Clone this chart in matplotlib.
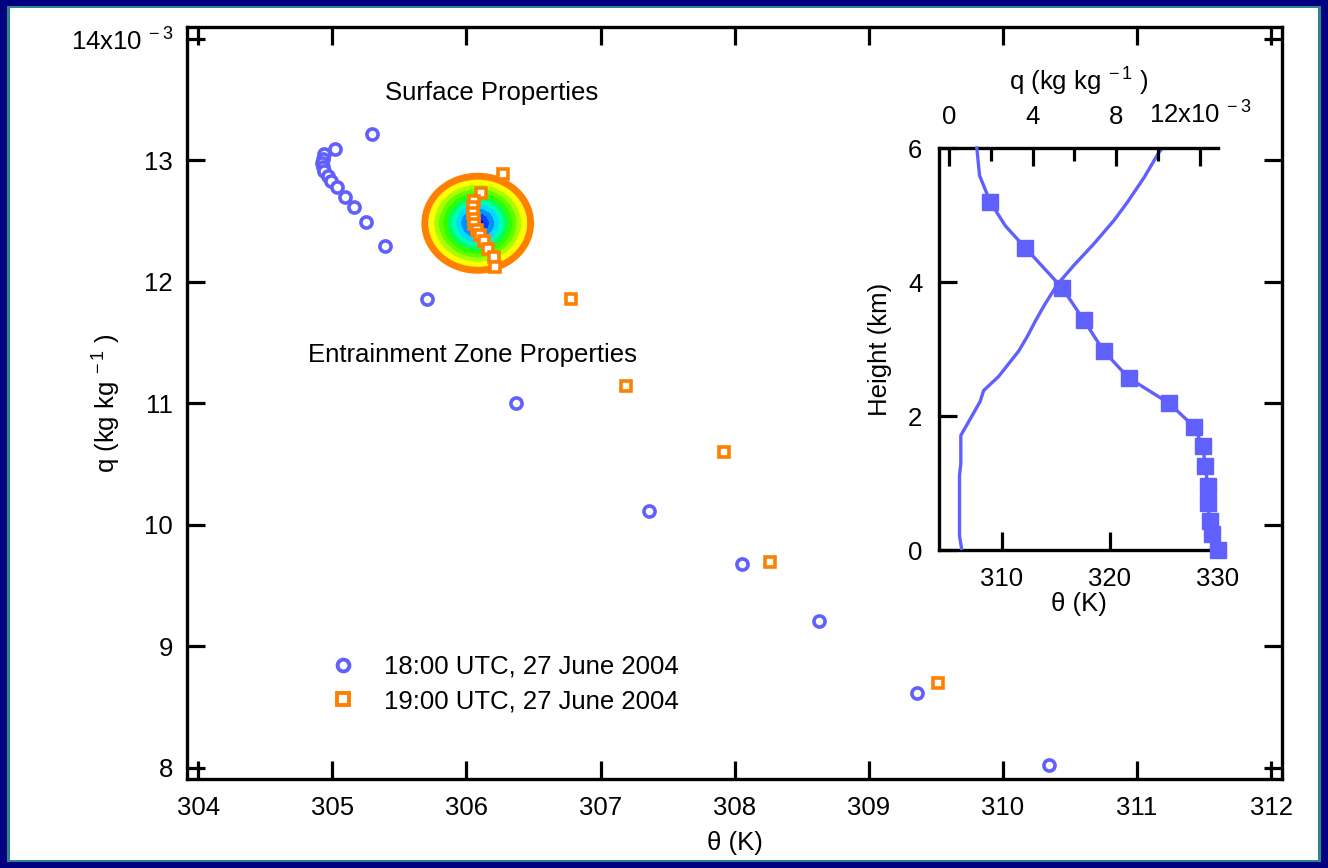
import numpy as np
import matplotlib
matplotlib.use("Agg")
import matplotlib.pyplot as plt
from matplotlib.lines import Line2D
from matplotlib.patches import Rectangle
from matplotlib.ticker import FixedLocator, FixedFormatter

plt.rcParams['font.family'] = ['Liberation Sans', 'DejaVu Sans']
plt.rcParams['mathtext.fontset'] = 'custom'
plt.rcParams['mathtext.rm'] = 'Liberation Sans'
plt.rcParams['mathtext.it'] = 'Liberation Sans'
plt.rcParams['mathtext.default'] = 'regular'

# ---------------- data (q in units of 1e-3 kg/kg) ----------------
theta_18 = [305.296, 305.022, 304.935, 304.928, 304.925, 304.928, 304.940, 304.965,
            304.993, 305.035, 305.092, 305.159, 305.254, 305.393, 305.707,
            306.373, 307.358, 308.052, 308.627, 309.358, 310.343]
q_18 = [13.218, 13.095, 13.051, 13.010, 12.977, 12.949, 12.916, 12.875,
        12.834, 12.784, 12.702, 12.615, 12.496, 12.299, 11.860,
        11.004, 10.115, 9.679, 9.210, 8.617, 8.025]

theta_19 = [306.269, 306.110, 306.060, 306.050, 306.050, 306.054, 306.060, 306.075,
            306.099, 306.129, 306.159, 306.204, 306.216,
            306.776, 307.187, 307.918, 308.261, 309.515]
q_19 = [12.889, 12.735, 12.669, 12.620, 12.565, 12.519, 12.477, 12.428,
        12.387, 12.340, 12.274, 12.203, 12.121,
        11.860, 11.144, 10.601, 9.695, 8.700]

# surface joint-distribution blob (centre, radii of outer contour)
blob_center = [306.084, 12.483]
blob_radius = [0.394, 0.387]
blob_levels = [0.0, 0.12, 0.22, 0.32, 0.42, 0.50, 0.58, 0.66, 0.74, 0.83, 0.92]
blob_colors = ['#0000f0', '#0040ff', '#0090ff', '#00dcff', '#00ffb0',
               '#00ff60', '#30ff00', '#60ff00', '#a8ff00', '#ffff00']
blob_outer = 1.0

# inset profiles
q_mark_h = [0, 0.24, 0.43, 0.70, 0.96, 1.25, 1.55, 1.84, 2.19, 2.57, 2.97, 3.43, 3.91, 4.51, 5.19]
q_mark = [12.87, 12.56, 12.48, 12.37, 12.37, 12.27, 12.13, 11.73, 10.53, 8.59, 7.40, 6.45, 5.42, 3.65, 1.98]
q_line_h = [0, 0.24, 0.43, 0.70, 0.96, 1.25, 1.55, 1.84, 2.19, 2.57, 2.97, 3.43, 3.91, 4.51, 4.84,
            5.19, 5.59, 6.0]
q_line = [12.87, 12.56, 12.48, 12.37, 12.37, 12.27, 12.13, 11.73, 10.53, 8.59, 7.40, 6.45, 5.42, 3.65, 2.69,
          1.98, 1.46, 1.33]
theta_h = [0, 0.21, 1.12, 1.28, 1.71, 2.22, 2.38, 2.59, 2.97, 3.18, 3.42, 3.64, 3.96, 4.25,
           4.57, 4.92, 5.19, 5.56, 5.94, 6.0]
theta_prof = [306.28, 306.07, 306.07, 306.19, 306.19, 307.99, 308.30, 309.69, 311.55, 312.32,
              313.10, 313.87, 315.11, 316.66, 318.51, 320.37, 321.61, 323.16, 324.55, 324.86]

main_yticks = [8, 9, 10, 11, 12, 13, 14]
main_yticklabels = ['8', '9', '10', '11', '12', '13', r'14x10$^{\;-3}$']
main_xticks = [304, 305, 306, 307, 308, 309, 310, 311, 312]
inset_qticks = [0, 4, 8, 12]
inset_qticklabels = ['0', '4', '8', r'12x10$^{\;-3}$']
inset_qminor = [2, 6, 10]
inset_thticks = [310, 320, 330]
inset_hticks = [0, 2, 4, 6]

legend_labels = ['18:00 UTC, 27 June 2004', '19:00 UTC, 27 June 2004']

BLUE = '#6060ff'
ORANGE = '#ff8000'
FS = 18.5

W, H = 1328, 868
fig = plt.figure(figsize=(W / 100, H / 100), dpi=100, facecolor='#000080')
# framed white panel
fig.patches.append(Rectangle((7 / W, 6 / H), (W - 14) / W, (H - 12) / H, transform=fig.transFigure,
                             facecolor='#2a8a8a', edgecolor='none', zorder=-10))
fig.patches.append(Rectangle((10 / W, 8 / H), (W - 20) / W, (H - 16) / H, transform=fig.transFigure,
                             facecolor='white', edgecolor='none', zorder=-9))

# ---------------- main axes ----------------
ax = fig.add_axes([187 / W, 1 - 779 / H, 1095 / W, 752 / H])
ax.set_facecolor('none')
ax.set_xlim(303.916, 312.082)
ax.set_ylim(7.907, 14.099)

tg = np.linspace(305.4, 306.8, 500)
qg = np.linspace(11.8, 13.2, 500)
TT, QQ = np.meshgrid(tg, qg)
RR = np.sqrt(((TT - blob_center[0]) / blob_radius[0]) ** 2 + ((QQ - blob_center[1]) / blob_radius[1]) ** 2)
ax.contourf(TT, QQ, RR, levels=blob_levels, colors=blob_colors, zorder=1)
ax.contour(TT, QQ, RR, levels=[blob_outer], colors=[ORANGE], linewidths=5, zorder=1)

ax.plot(theta_19, q_19, ls='none', marker='s', ms=7.5, mfc='white', mec=ORANGE, mew=2.6, zorder=3)
ax.plot(theta_18, q_18, ls='none', marker='o', ms=8, mfc='white', mec=BLUE, mew=2.6, zorder=3)

ax.text(306.185, 13.555, 'Surface Properties', ha='center', va='center', fontsize=FS)
ax.text(306.043, 11.396, 'Entrainment Zone Properties', ha='center', va='center', fontsize=FS)

ax.xaxis.set_major_locator(FixedLocator(main_xticks))
ax.yaxis.set_major_locator(FixedLocator(main_yticks))
ax.yaxis.set_major_formatter(FixedFormatter(main_yticklabels))
ax.tick_params(axis='both', direction='in', length=13, width=2.3, labelsize=FS,
               top=True, right=True)
ax.tick_params(axis='x', pad=12)
ax.tick_params(axis='y', pad=10)
for s in ax.spines.values():
    s.set_linewidth(2.4)
ax.set_xlabel('θ (K)', fontsize=FS, labelpad=8)
ax.set_ylabel(r'q (kg kg$^{\;-1}$ )', fontsize=FS)
ax.yaxis.set_label_coords(-0.058, 0.5)

handles = [Line2D([], [], ls='none', marker='o', ms=8.5, mfc='white', mec=BLUE, mew=2.8),
           Line2D([], [], ls='none', marker='s', ms=8, mfc='white', mec=ORANGE, mew=2.8)]
ax.legend(handles, legend_labels, loc='upper left', bbox_to_anchor=(0.1306, 0.165),
          frameon=False, fontsize=FS, borderpad=0, borderaxespad=0, handlelength=1.0,
          handletextpad=1.1, labelspacing=0.4)

# ---------------- inset ----------------
ai = fig.add_axes([939 / W, 1 - 550 / H, 279 / W, 402 / H])
ai.set_facecolor('none')
ai.set_xlim(304.17, 330.0)
ai.set_ylim(0, 6)
ai.plot(theta_prof, theta_h, color=BLUE, lw=2.4, zorder=3)
ai.spines['right'].set_visible(False)
ai.spines['top'].set_visible(False)
for s in ['left', 'bottom']:
    ai.spines[s].set_linewidth(2.4)
ai.xaxis.set_major_locator(FixedLocator(inset_thticks))
ai.yaxis.set_major_locator(FixedLocator(inset_hticks))
ai.tick_params(axis='both', direction='in', length=13, width=2.3, labelsize=FS)
ai.tick_params(axis='x', pad=12)
ai.tick_params(axis='y', pad=12)
ai.set_xlabel('θ (K)', fontsize=FS, labelpad=1)
ai.set_ylabel('Height (km)', fontsize=FS)
ai.yaxis.set_label_coords(-0.168, 0.5)

aq = ai.twiny()
aq.set_facecolor('none')
aq.set_xlim(-0.48, 12.87)
aq.plot(q_line, q_line_h, color=BLUE, lw=2.4, zorder=3, clip_on=False)
aq.plot(q_mark, q_mark_h, ls='none', marker='s', ms=11.5, color=BLUE, zorder=4, clip_on=False)
for s in ['left', 'right', 'bottom']:
    aq.spines[s].set_visible(False)
aq.spines['top'].set_linewidth(2.4)
aq.xaxis.set_major_locator(FixedLocator(inset_qticks))
aq.xaxis.set_major_formatter(FixedFormatter(inset_qticklabels))
aq.xaxis.set_minor_locator(FixedLocator(inset_qminor))
aq.tick_params(axis='x', which='major', direction='in', length=13, width=2.3, labelsize=FS, pad=14)
aq.tick_params(axis='x', which='minor', direction='in', length=9, width=2.3)
aq.set_xlabel(r'q (kg kg$^{\;-1}$ )', fontsize=FS, labelpad=8)

fig.savefig('out.png', dpi=100, facecolor=fig.get_facecolor())
